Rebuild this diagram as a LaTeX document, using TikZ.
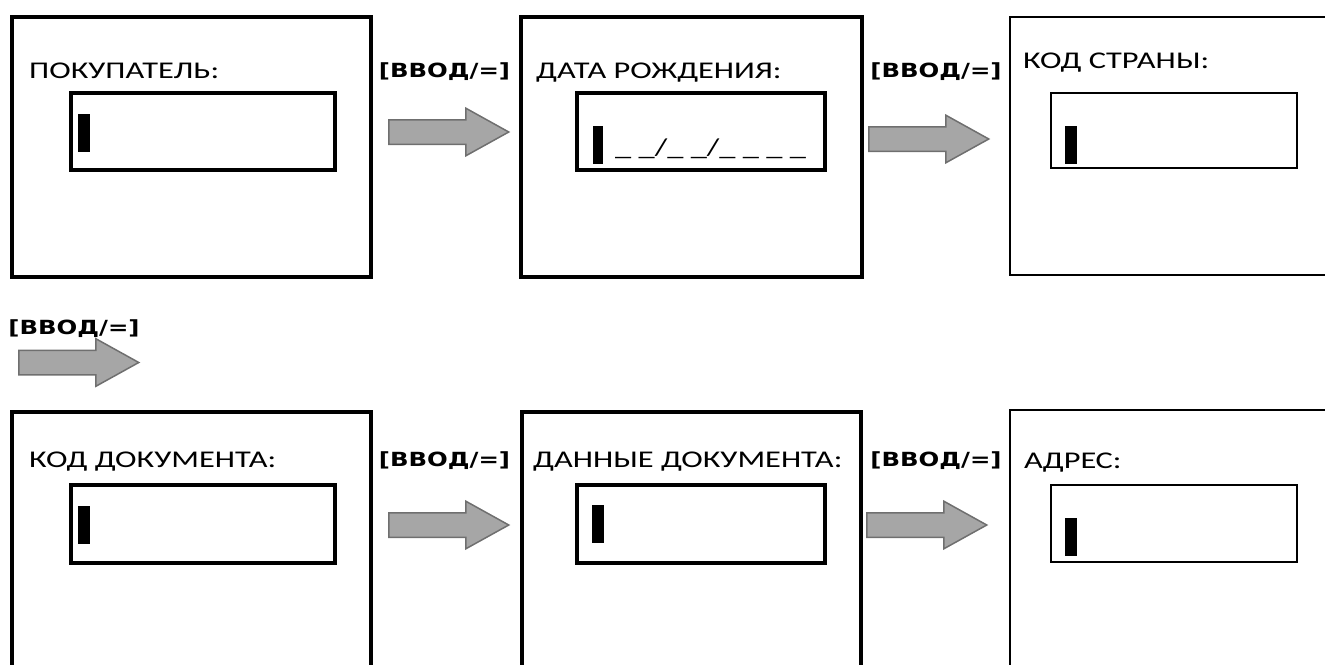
\documentclass[tikz,border=0pt]{standalone}
\usepackage{fontspec}
\setmainfont{Carlito}[FakeStretch=1.35]
\newfontfamily\keyfont{DejaVu Sans}[FakeStretch=1.25]
\usetikzlibrary{shapes.arrows}
\definecolor{ink}{HTML}{000000}
\definecolor{arrowfill}{HTML}{A6A6A6}
\definecolor{arrowdraw}{HTML}{6F6F6F}

\begin{document}
\begin{tikzpicture}[
  x=1pt, y=-1pt,
  screen/.style={draw=ink, line width=3.5pt, inner sep=0pt},
  thinscreen/.style={screen, line width=2.5pt},
  field/.style={draw=ink, line width=3.5pt, inner sep=0pt},
  thinfield/.style={field, line width=2.5pt},
  cursor/.style={fill=ink, inner sep=0pt, minimum width=12pt, minimum height=38pt},
  prompt/.style={anchor=base west, inner sep=0pt, font=\fontsize{24}{28}\selectfont},
  keylabel/.style={inner sep=0pt, font=\keyfont\bfseries\fontsize{19.5}{23}\selectfont},
  nextarrow/.style={single arrow, anchor=tail, fill=arrowfill, draw=arrowdraw, line width=1.5pt,
                    inner xsep=0pt, inner ysep=11.5pt, minimum height=120pt, minimum width=46pt,
                    single arrow head extend=11.5pt, single arrow tip angle=58,
                    single arrow head indent=0pt}
]
\useasboundingbox (0,0) rectangle (1325,664);
\clip (0,0) rectangle (1325,664);

% first row
\node[screen, minimum width=359pt, minimum height=260pt] (buyer) at (191.5,147) {};
\node[prompt] (buyertxt) at (29,78) {ПОКУПАТЕЛЬ:};
\node[field, minimum width=264pt, minimum height=77pt] (buyerin) at (203,131.5) {};
\node[cursor] (buyercur) at (84,133) {};

\node[screen, minimum width=341pt, minimum height=260pt] (birth) at (691.5,147) {};
\node[prompt] (birthtxt) at (536,78) {ДАТА РОЖДЕНИЯ:};
\node[field, minimum width=248pt, minimum height=77pt] (birthin) at (701,131.5) {};
\node[cursor, minimum width=10pt] (birthcur) at (598,145) {};
\node[prompt] (birthmask) at (615,155) {\_ \_/\_ \_/\_ \_ \_ \_};

\node[thinscreen, minimum width=360pt, minimum height=258pt] (country) at (1190,146) {};
\node[prompt] (countrytxt) at (1023,68) {КОД СТРАНЫ:};
\node[thinfield, minimum width=246pt, minimum height=75pt] (countryin) at (1174,130.5) {};
\node[cursor] (countrycur) at (1071,145) {};

\node[keylabel] (key1) at (444.5,72) {[ВВОД/=]};
\node[nextarrow] (go1) at (388,132) {};
\node[keylabel] (key2) at (936,72) {[ВВОД/=]};
\node[nextarrow] (go2) at (868,139) {};

% wrap to second row
\node[keylabel] (key3) at (74,329) {[ВВОД/=]};
\node[nextarrow] (go3) at (18,362.5) {};

% second row
\node[screen, minimum width=359pt, minimum height=260pt] (doccode) at (191.5,542) {};
\node[prompt] (doccodetxt) at (29,467) {КОД ДОКУМЕНТА:};
\node[field, minimum width=264pt, minimum height=78pt] (doccodein) at (203,524) {};
\node[cursor] (doccodecur) at (84,525) {};

\node[screen, minimum width=339pt, minimum height=260pt] (docdata) at (691.5,542) {};
\node[prompt] (docdatatxt) at (533,467) {ДАННЫЕ ДОКУМЕНТА:};
\node[field, minimum width=248pt, minimum height=78pt] (docdatain) at (701,524) {};
\node[cursor] (docdatacur) at (598,523.5) {};

\node[thinscreen, minimum width=360pt, minimum height=262pt] (address) at (1190,541) {};
\node[prompt] (addresstxt) at (1024,468) {АДРЕС:};
\node[thinfield, minimum width=246pt, minimum height=77pt] (addressin) at (1174,523.5) {};
\node[cursor] (addresscur) at (1071,537) {};

\node[keylabel] (key4) at (444.5,461) {[ВВОД/=]};
\node[nextarrow] (go4) at (388,525) {};
\node[keylabel] (key5) at (936,461) {[ВВОД/=]};
\node[nextarrow] (go5) at (866,525) {};

\end{tikzpicture}
\end{document}
